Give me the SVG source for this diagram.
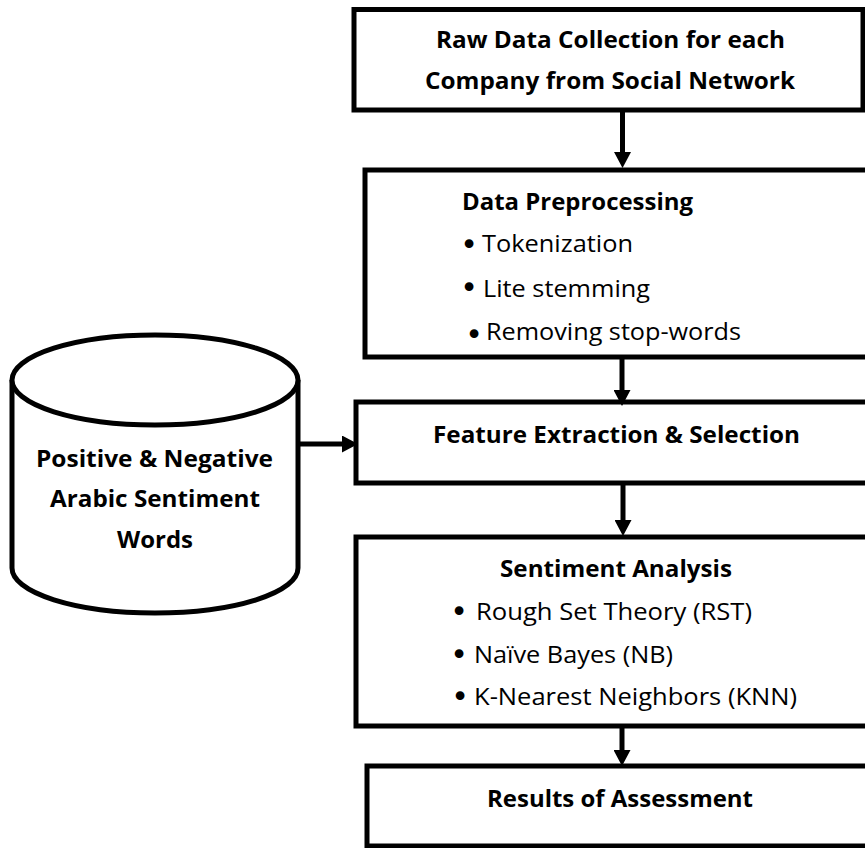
<svg xmlns="http://www.w3.org/2000/svg" width="865" height="848" viewBox="0 0 865 848">
<style>
.box{fill:#fff;stroke:#000;stroke-width:5}
.t{font-family:"Open Sans",Lato,"Liberation Sans",sans-serif;font-size:24px;fill:#000}
.b{font-weight:bold;font-size:23px}
.bul{font-family:"DejaVu Sans","Liberation Sans",sans-serif;font-size:30px;fill:#000;text-anchor:middle}
.c{fill:none;stroke:#000;stroke-width:5}
</style>
<defs>
<marker id="ah" markerUnits="userSpaceOnUse" viewBox="0 0 16 17" refX="8" refY="8.5" markerWidth="16" markerHeight="17" orient="auto">
<path d="M0,0 L16,8.5 L0,17 Z" fill="#000"/>
</marker>
</defs>
<rect width="865" height="848" fill="#fff"/>
<g id="n-raw">
<rect class="box" x="354" y="9.5" width="509" height="100.5"/>
<text class="t b" x="436" y="48" textLength="349" lengthAdjust="spacingAndGlyphs">Raw Data Collection for each</text>
<text class="t b" x="425" y="88.5" textLength="370" lengthAdjust="spacingAndGlyphs">Company from Social Network</text>
</g>
<g id="n-pre">
<rect class="box" x="365" y="170" width="510" height="187"/>
<text class="t b" x="462" y="210" textLength="231" lengthAdjust="spacingAndGlyphs">Data Preprocessing</text>
<text class="bul" x="469" y="255">•</text>
<text class="t" x="482" y="252" textLength="151" lengthAdjust="spacingAndGlyphs">Tokenization</text>
<text class="bul" x="469" y="298">•</text>
<text class="t" x="483" y="296.5" textLength="167" lengthAdjust="spacingAndGlyphs">Lite stemming</text>
<text class="bul" x="474" y="345">•</text>
<text class="t" x="486" y="339.5" textLength="255" lengthAdjust="spacingAndGlyphs">Removing stop-words</text>
</g>
<g id="n-feat">
<rect class="box" x="356" y="402" width="519" height="81"/>
<text class="t b" x="433" y="443" textLength="367" lengthAdjust="spacingAndGlyphs">Feature Extraction &amp; Selection</text>
</g>
<g id="n-sent">
<rect class="box" x="356" y="537" width="519" height="189"/>
<text class="t b" x="500" y="577" textLength="232" lengthAdjust="spacingAndGlyphs">Sentiment Analysis</text>
<text class="bul" x="459" y="622">•</text>
<text class="t" x="476" y="620" textLength="276" lengthAdjust="spacingAndGlyphs">Rough Set Theory (RST)</text>
<text class="bul" x="459" y="665">•</text>
<text class="t" x="474" y="663" textLength="199" lengthAdjust="spacingAndGlyphs">Naïve Bayes (NB)</text>
<text class="bul" x="460" y="707">•</text>
<text class="t" x="474" y="705" textLength="323" lengthAdjust="spacingAndGlyphs">K-Nearest Neighbors (KNN)</text>
</g>
<g id="n-res">
<rect class="box" x="367" y="766" width="508" height="80"/>
<text class="t b" x="487" y="807" textLength="266" lengthAdjust="spacingAndGlyphs">Results of Assessment</text>
</g>
<g id="n-db">
<path class="box" d="M12,380 L12,568 A143,45 0 0 0 298,568 L298,380"/>
<ellipse class="box" cx="155" cy="380" rx="143" ry="45"/>
<text class="t b" x="36" y="467" textLength="237" lengthAdjust="spacingAndGlyphs">Positive &amp; Negative</text>
<text class="t b" x="50" y="507" textLength="210" lengthAdjust="spacingAndGlyphs">Arabic Sentiment</text>
<text class="t b" x="117" y="548" textLength="76" lengthAdjust="spacingAndGlyphs">Words</text>
</g>
<g id="connectors">
<line class="c" x1="622.5" y1="110" x2="622.5" y2="160" marker-end="url(#ah)"/>
<line class="c" x1="622" y1="357" x2="622" y2="398" marker-end="url(#ah)"/>
<line class="c" x1="623" y1="483" x2="623" y2="528" marker-end="url(#ah)"/>
<line class="c" x1="622" y1="726" x2="622" y2="758" marker-end="url(#ah)"/>
<line class="c" x1="298" y1="444" x2="350" y2="444" marker-end="url(#ah)"/>
</g>
</svg>
